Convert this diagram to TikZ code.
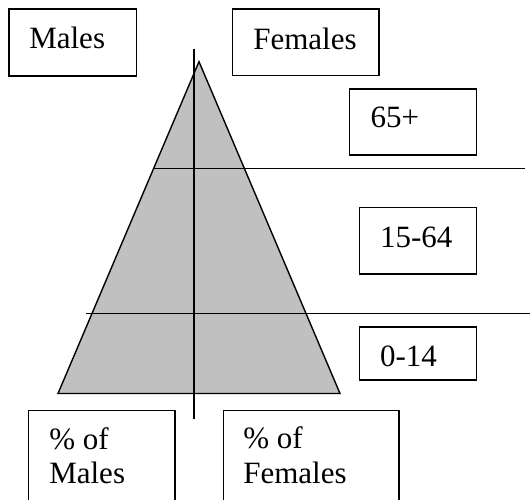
\documentclass[tikz,border=0pt]{standalone}
\usepackage{fontspec}
\setmainfont{Liberation Serif}
\definecolor{pyrfill}{HTML}{C0C0C0}
\begin{document}
\begin{tikzpicture}[x=1pt,y=-1pt,
  boxstyle/.style={draw=black,line width=1.3pt,anchor=north west,inner sep=0pt,outer sep=0pt},
  lbl/.style={anchor=base west,inner sep=0pt,outer sep=0pt,font=\fontsize{31}{34.5}\selectfont,align=left},
  thinline/.style={draw=black,line width=1.3pt}]
\clip (0,0) rectangle (530,500);
\fill[white] (0,0) rectangle (530,500);
% pyramid
\coordinate (apex) at (199,61.7);
\coordinate (bl) at (58,393.5);
\coordinate (br) at (340,393.5);
\filldraw[fill=pyrfill,draw=black,line width=1.4pt,line join=miter] (apex) -- (br) -- (bl) -- cycle;
% axis and dividers
\coordinate (vtop) at (194,48.7);
\coordinate (vbot) at (194,419.3);
\draw[thinline] (vtop) -- (vbot);
\coordinate (h1a) at (153.3,168.3);
\coordinate (h1b) at (525,168.3);
\draw[thinline] (h1a) -- (h1b);
\coordinate (h2a) at (86,313.3);
\coordinate (h2b) at (531,313.3);
\draw[thinline] (h2a) -- (h2b);
% boxes
\node[boxstyle,minimum width=127.3pt,minimum height=67pt] (mbox) at (9,9) {};
\node[boxstyle,minimum width=146.7pt,minimum height=66.7pt] (fbox) at (232.3,9) {};
\node[boxstyle,minimum width=127.4pt,minimum height=66pt] (oldbox) at (349.3,89) {};
\node[boxstyle,minimum width=117.4pt,minimum height=66.7pt] (midbox) at (359.3,207.3) {};
\node[boxstyle,minimum width=117.4pt,minimum height=53pt] (youngbox) at (359.3,327) {};
\node[boxstyle,minimum width=146.7pt,minimum height=110pt] (pmbox) at (28.3,410.3) {};
\node[boxstyle,minimum width=175.7pt,minimum height=110pt] (pfbox) at (223.3,410.7) {};
% labels
\node[lbl] (mtxt) at (29.3,48.7) {Males};
\node[lbl] (ftxt) at (253.3,49.3) {Females};
\node[lbl] (oldtxt) at (370.7,127.7) {65+};
\node[lbl] (midtxt) at (380,247.3) {15-64};
\node[lbl] (youngtxt) at (380,366) {0-14};
\node[lbl] (pm1) at (49.3,449.3) {\% of};
\node[lbl] (pm2) at (49.3,483.3) {Males};
\node[lbl] (pf1) at (243.3,448.3) {\% of};
\node[lbl] (pf2) at (243.3,483.3) {Females};
\end{tikzpicture}
\end{document}
